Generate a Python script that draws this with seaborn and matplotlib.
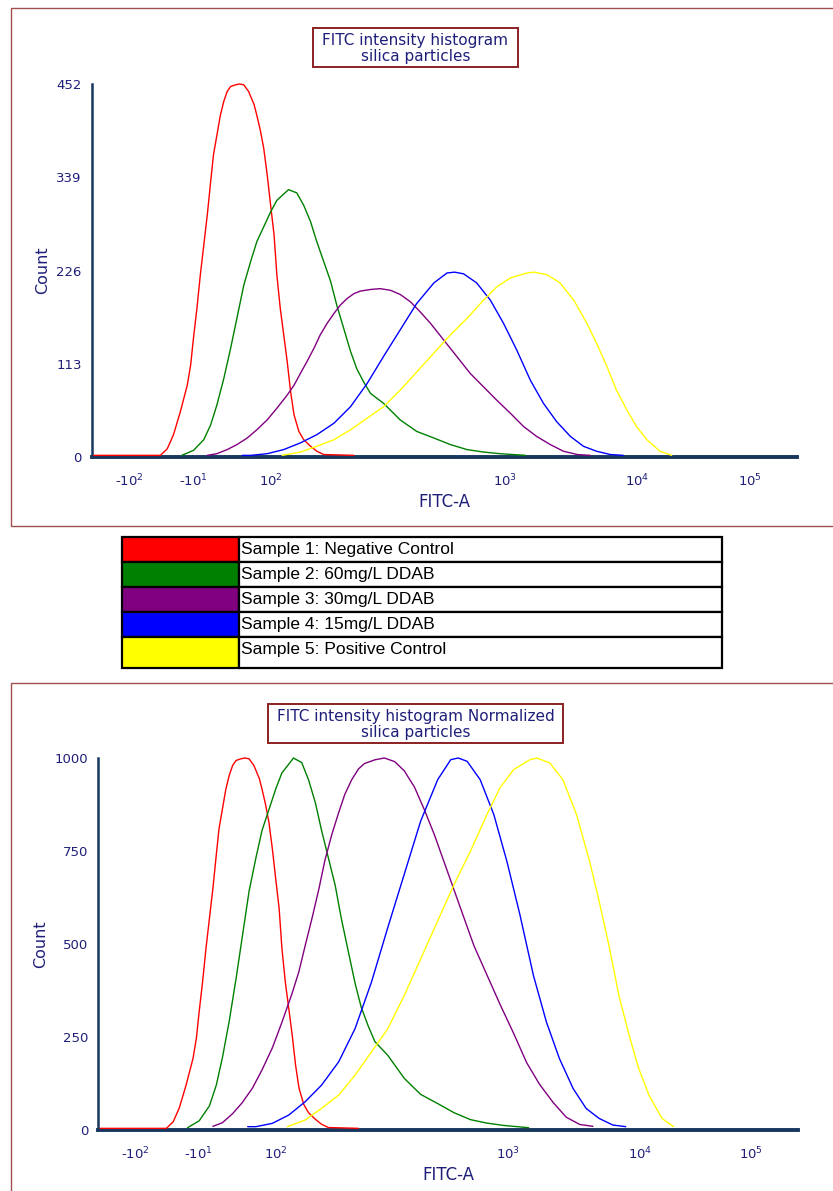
import numpy as np
import pandas as pd
import matplotlib
matplotlib.use('Agg')
import matplotlib.pyplot as plt
from matplotlib.patches import Rectangle
from matplotlib.ticker import MultipleLocator
import seaborn as sns

samples = ['Sample 1: Negative Control', 'Sample 2: 60mg/L DDAB', 'Sample 3: 30mg/L DDAB',
           'Sample 4: 15mg/L DDAB', 'Sample 5: Positive Control']
colors = ['#ff0000', '#008000', '#800080', '#0000ff', '#ffff00']

# histogram traces: display channel (0-1024) vs. event count
red_ch = [3, 100, 110, 119, 129, 139, 144, 148, 153, 158, 163, 168, 173, 177, 182, 187, 192, 197, 202, 209,
          215, 221, 228, 236, 240, 245, 250, 255, 260, 265, 269, 274, 279, 284, 289, 294, 301, 308, 318, 327,
          337, 381]
red_cnt = [2, 2, 10, 27, 55, 87, 112, 144, 180, 221, 257, 293, 334, 366, 390, 414, 431, 443, 449, 451,
           452, 451, 443, 427, 414, 396, 374, 342, 305, 269, 221, 180, 148, 116, 79, 51, 31, 21, 13, 7,
           3, 2]
green_ch = [131, 148, 163, 173, 182, 192, 202, 211, 221, 231, 240, 250, 260, 269, 286, 298, 308, 318, 327, 337,
            347, 356, 366, 376, 385, 395, 405, 424, 448, 472, 497, 521, 545, 569, 593, 630]
green_cnt = [2, 8, 21, 39, 63, 95, 132, 168, 208, 237, 261, 279, 297, 311, 324, 320, 305, 285, 261, 237,
             213, 184, 156, 128, 107, 91, 77, 65, 45, 31, 23, 15, 9, 6, 4, 2]
purple_ch = [168, 182, 197, 211, 226, 240, 255, 269, 284, 294, 303, 313, 323, 332, 342, 352, 361, 371, 381, 390,
             405, 419, 434, 448, 463, 477, 492, 511, 530, 550, 569, 588, 608, 627, 646, 666, 685, 705, 724]
purple_cnt = [2, 4, 9, 15, 23, 33, 45, 59, 75, 87, 101, 116, 132, 148, 162, 174, 184, 192, 198, 201,
              203, 204, 202, 197, 188, 176, 162, 142, 122, 101, 85, 69, 53, 37, 25, 15, 7, 3, 2]
blue_ch = [219, 231, 255, 279, 303, 327, 352, 376, 400, 424, 448, 472, 497, 516, 527, 540, 559, 579, 598, 617,
           637, 656, 675, 695, 714, 733, 753, 772]
blue_cnt = [2, 2, 4, 9, 17, 27, 41, 61, 89, 122, 154, 186, 211, 223, 224, 222, 211, 190, 162, 130,
            93, 65, 43, 25, 13, 7, 3, 2]
yellow_ch = [277, 303, 327, 352, 376, 400, 424, 448, 472, 497, 521, 545, 569, 588, 608, 632, 642, 661, 680, 700,
             719, 733, 748, 762, 777, 791, 806, 825, 842]
yellow_cnt = [2, 6, 13, 21, 33, 47, 61, 81, 103, 126, 148, 168, 190, 206, 217, 223, 224, 221, 211, 190,
              162, 138, 110, 81, 57, 37, 21, 7, 2]

major_vals = [-100, -10, 100, 1000, 10000, 100000]
major_labels = [r'-$10^{2}$', r'-$10^{1}$', r'$10^{2}$', r'$10^{3}$', r'$10^{4}$', r'$10^{5}$']
minor_vals = ([-90, -80, -70, -60, -50, -40, -30, -20] + list(range(-9, 10)) + [20, 30, 40, 50, 60, 70, 80, 90]
              + [k * 10 ** d for d in (2, 3, 4) for k in range(2, 10)] + [200000])

# biexponential display: linear within +-100, one segment per decade above
DEC_CH = [260.0, 599.7, 792.6, 955.8]


def to_channel(v):
    v = np.asarray(v, float)
    lin = 157.55 + v * 1.0245
    lg = np.log10(np.clip(np.abs(v), 1, None))
    dec = np.interp(lg, [2, 3, 4, 5], DEC_CH)
    dec = np.where(lg > 5, DEC_CH[-1] + (lg - 5) * (DEC_CH[-1] - DEC_CH[-2]), dec)
    return np.where(np.abs(v) <= 100, lin, dec)


frames = []
for name, ch, cnt in zip(samples, [red_ch, green_ch, purple_ch, blue_ch, yellow_ch],
                         [red_cnt, green_cnt, purple_cnt, blue_cnt, yellow_cnt]):
    frames.append(pd.DataFrame({'sample': name, 'channel': ch, 'count': cnt}))
df = pd.concat(frames, ignore_index=True)
df['normalized'] = df['count'] / df.groupby('sample')['count'].transform('max') * 1000

sns.set_style('white')
plt.rcParams['font.family'] = ['DejaVu Sans']
plt.rcParams['mathtext.fontset'] = 'dejavusans'

NAVY = '#17375e'
TXT = '#1f1f7a'
FRAME = '#a05050'
BOX = '#8b2323'
W, H = 833, 1191

fig = plt.figure(figsize=(W / 100, H / 100), dpi=100)


def px_axes(x0, y0, x1, y1):
    return fig.add_axes([x0 / W, 1 - y1 / H, (x1 - x0) / W, (y1 - y0) / H])


def px_rect(x0, y0, x1, y1, **kw):
    fig.add_artist(Rectangle((x0 / W, 1 - y1 / H), (x1 - x0) / W, (y1 - y0) / H,
                             transform=fig.transFigure, fill=False, **kw))


# panel frames
px_rect(10.5, 8, 845, 526, ec=FRAME, lw=1)
px_rect(10.5, 683, 845, 1200, ec=FRAME, lw=1)

ax1 = px_axes(91.5, 84, 797, 457)
ax2 = px_axes(98, 758, 798, 1130)

panels = [(ax1, 'count', 452, 113, (-0.0588, -0.0965)),
          (ax2, 'normalized', 1000, 250, (-0.0714, -0.0968))]
for ax, ycol, ymax, ystep, (ylx, xly) in panels:
    sns.lineplot(data=df, x='channel', y=ycol, hue='sample', hue_order=samples, palette=colors,
                 estimator=None, legend=False, linewidth=1.0, ax=ax, zorder=3, clip_on=False)
    ax.set_xlim(0, 1024)
    ax.set_ylim(0, ymax)
    ax.set_yticks(np.arange(0, ymax + 1, ystep))
    ax.yaxis.set_minor_locator(MultipleLocator(ystep / 4))
    ax.set_xticks(to_channel(major_vals))
    ax.set_xticklabels(major_labels)
    ax.set_xticks(to_channel(minor_vals), minor=True)
    ax.set_xlabel('FITC-A', color=TXT, fontsize=12)
    ax.set_ylabel('Count', color=TXT, fontsize=11.5)
    ax.xaxis.set_label_coords(0.5, xly)
    ax.yaxis.set_label_coords(ylx, 0.5)
    for s in ('top', 'right'):
        ax.spines[s].set_visible(False)
    ax.spines['left'].set_color(NAVY)
    ax.spines['left'].set_linewidth(1.8)
    ax.spines['bottom'].set_color(NAVY)
    ax.spines['bottom'].set_linewidth(2.8)
    ax.tick_params(axis='x', which='major', direction='out', length=5, width=1.2, color=NAVY,
                   labelcolor=TXT, labelsize=9.5, pad=6.5)
    ax.tick_params(axis='x', which='minor', direction='out', length=3, width=1.0, color=NAVY)
    ax.tick_params(axis='y', which='major', direction='out', length=4.5, width=1.2, color=NAVY,
                   labelcolor=TXT, labelsize=9.5, pad=2.5)
    ax.tick_params(axis='y', which='minor', direction='out', length=2.5, width=1.0, color=NAVY)

# title boxes
px_rect(313, 28, 518, 67, ec=BOX, lw=1.4)
fig.text(415.5 / W, 1 - 48.5 / H, 'FITC intensity histogram\nsilica particles', ha='center', va='center',
         color=TXT, fontsize=11, linespacing=1.15)
px_rect(268, 704, 563, 743, ec=BOX, lw=1.4)
fig.text(415.5 / W, 1 - 724.5 / H, 'FITC intensity histogram Normalized\nsilica particles', ha='center',
         va='center', color=TXT, fontsize=11, linespacing=1.15)

# legend table
axl = px_axes(122, 537, 722, 668)
axl.set_xlim(0, 600)
axl.set_ylim(131, 0)
axl.axis('off')
row_tops = [0, 25, 50, 75, 100]
row_h = [25, 25, 25, 25, 31]
for name, col, top, h in zip(samples, colors, row_tops, row_h):
    axl.add_patch(Rectangle((0, top), 117, h, fc=col, ec='black', lw=1.6, clip_on=False))
    axl.add_patch(Rectangle((117, top), 483, h, fc='white', ec='black', lw=1.6, clip_on=False))
    axl.text(119, top + 12.5, name, ha='left', va='center', fontsize=12.5, color='black',
             family='Liberation Sans')

fig.savefig('out.png', dpi=100)
